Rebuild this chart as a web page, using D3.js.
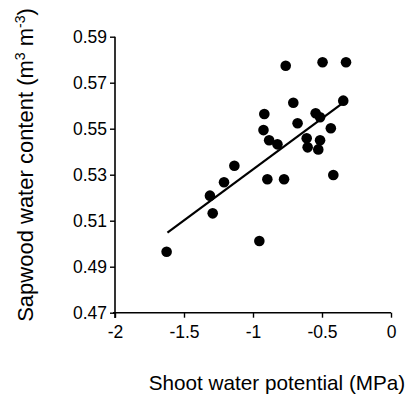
<!DOCTYPE html>
<html>
<head>
<meta charset="utf-8">
<script src="https://cdn.jsdelivr.net/npm/d3@7"></script>
<style>
  body { margin: 0; background: #fff; }
  text { font-family: "Liberation Sans", Arial, sans-serif; fill: #000; }
</style>
</head>
<body>
<svg id="chart" width="409" height="401"></svg>
<script>
// shoot water potential (MPa)
var potential = [-1.626, -1.292, -1.312, -1.210, -1.135, -0.954, -0.896, -0.775, -0.418,
  -0.763, -0.496, -0.326, -0.708, -0.346, -0.918, -0.546, -0.514, -0.677, -0.436,
  -0.924, -0.883, -0.823, -0.611, -0.514, -0.604, -0.527]
// sapwood water content (m3 m-3)
var content = [0.4965, 0.5132, 0.5209, 0.5267, 0.5339, 0.5012, 0.5280, 0.5280, 0.5299,
  0.5774, 0.5789, 0.5789, 0.5613, 0.5622, 0.5564, 0.5567, 0.5550, 0.5524, 0.5502,
  0.5494, 0.5450, 0.5432, 0.5458, 0.5450, 0.5419, 0.5410]
// fitted line ends
var fitX = [-1.62, -0.36]
var fitY = [0.5048, 0.5607]

var xTicks = [-2, -1.5, -1, -0.5, 0]
var yTicks = [0.47, 0.49, 0.51, 0.53, 0.55, 0.57, 0.59]

var svg = d3.select("#chart")

var x = d3.scaleLinear().domain([-2, 0]).range([115, 391])
var y = d3.scaleLinear().domain([0.47, 0.59]).range([312.7, 36.7])

// axes
svg.append("g")
  .attr("transform", "translate(0,312.7)")
  .call(d3.axisBottom(x).tickValues(xTicks).tickSize(5).tickPadding(8)
    .tickFormat(function(d) { return String(d) }))
svg.append("g")
  .attr("transform", "translate(115,0)")
  .call(d3.axisLeft(y).tickValues(yTicks).tickSize(5).tickPadding(3)
    .tickFormat(d3.format(".2f")))

svg.selectAll(".domain").remove()
svg.append("line").attr("x1", 115).attr("x2", 115).attr("y1", 36.7).attr("y2", 318)
  .attr("stroke", "#000").attr("stroke-width", 1.6)
svg.append("line").attr("x1", 113).attr("x2", 391).attr("y1", 312.7).attr("y2", 312.7)
  .attr("stroke", "#000").attr("stroke-width", 1.6)

svg.selectAll(".tick line").attr("stroke", "#000").attr("stroke-width", 1.4)
svg.selectAll(".tick text").style("font-size", "17.5px").style("font-family", "Liberation Sans, Arial, sans-serif")

// regression line
svg.append("line")
  .attr("x1", x(fitX[0])).attr("y1", y(fitY[0]))
  .attr("x2", x(fitX[1])).attr("y2", y(fitY[1]))
  .attr("stroke", "#000").attr("stroke-width", 2.2)

// points
svg.selectAll(".pt")
  .data(potential)
  .enter()
  .append("circle")
  .attr("class", "pt")
  .attr("cx", function(d) { return x(d) })
  .attr("cy", function(d, i) { return y(content[i]) })
  .attr("r", 5.3)
  .attr("fill", "#000")

// axis titles
svg.append("text")
  .attr("x", 277).attr("y", 390)
  .attr("text-anchor", "middle")
  .style("font-size", "20.7px")
  .text("Shoot water potential (MPa)")

var yl = svg.append("text")
  .attr("transform", "translate(33,165) rotate(-90)")
  .attr("text-anchor", "middle")
  .style("font-size", "22px")
yl.append("tspan").text("Sapwood water content (m")
yl.append("tspan").attr("dy", -8).style("font-size", "14px").text("3")
yl.append("tspan").attr("dy", 8).text(" m")
yl.append("tspan").attr("dy", -8).style("font-size", "14px").text("-3")
yl.append("tspan").attr("dy", 8).text(")")
</script>
</body>
</html>
